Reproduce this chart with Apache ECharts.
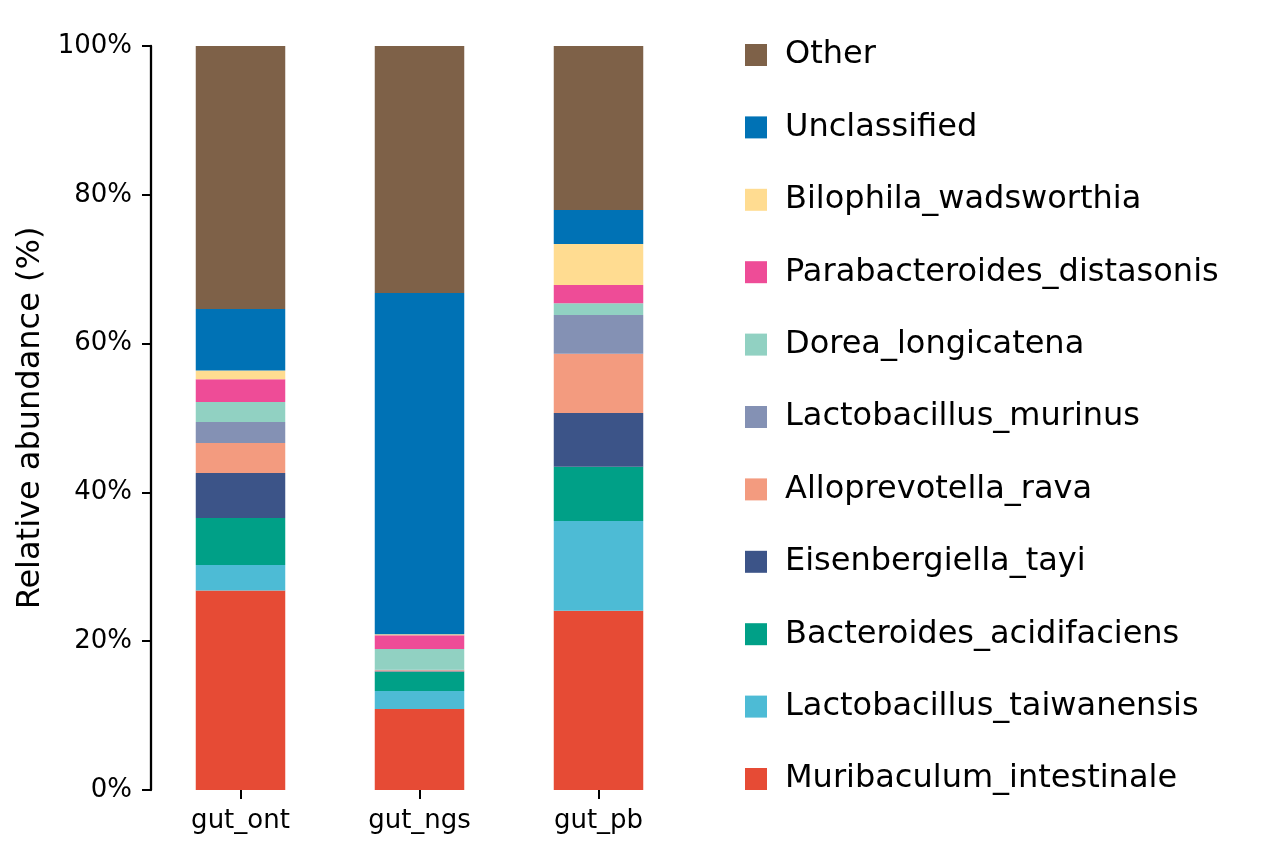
<!DOCTYPE html>
<html>
<head>
<meta charset="utf-8">
<script src="https://cdn.jsdelivr.net/npm/echarts@6/dist/echarts.min.js"></script>
<style>
html,body{margin:0;padding:0;background:#fff;}
#chart{width:1265px;height:852px;}
</style>
</head>
<body>
<div id="chart"></div>
<script>
const categories = ['gut_ont', 'gut_ngs', 'gut_pb'];
const yTicks = [0, 20, 40, 60, 80, 100];
// bottom-up stacking order
const taxa = ['Muribaculum_intestinale','Lactobacillus_taiwanensis','Bacteroides_acidifaciens','Eisenbergiella_tayi','Alloprevotella_rava','Lactobacillus_murinus','Dorea_longicatena','Parabacteroides_distasonis','Bilophila_wadsworthia','Unclassified','Other'];
const colors = ['#E64B35','#4DBBD5','#00A087','#3C5488','#F39B7F','#8491B4','#91D1C2','#EE4C97','#FFDC91','#0072B5','#7E6148'];
const Muribaculum_intestinale = [26.8, 10.9, 24.1];
const Lactobacillus_taiwanensis = [3.45, 2.4, 12.06];
const Bacteroides_acidifaciens = [6.3, 2.6, 7.3];
const Eisenbergiella_tayi = [6.05, 0.05, 7.21];
const Alloprevotella_rava = [4.05, 0.15, 7.97];
const Lactobacillus_murinus = [2.8, 0.05, 5.2];
const Dorea_longicatena = [2.7, 2.8, 1.57];
const Parabacteroides_distasonis = [3.05, 1.85, 2.47];
const Bilophila_wadsworthia = [1.2, 0.15, 5.51];
const Unclassified = [8.25, 45.85, 4.57];
const Other = [35.35, 33.2, 22.04];
const values = [Muribaculum_intestinale, Lactobacillus_taiwanensis, Bacteroides_acidifaciens, Eisenbergiella_tayi, Alloprevotella_rava, Lactobacillus_murinus, Dorea_longicatena, Parabacteroides_distasonis, Bilophila_wadsworthia, Unclassified, Other];

const FONT = 'DejaVu Sans';
const chart = echarts.init(document.getElementById('chart'), null, {renderer: 'canvas'});
const series = taxa.map((name, i) => ({
  name: name,
  type: 'bar',
  stack: 'total',
  barWidth: '50%',
  data: values[i],
  itemStyle: {color: colors[i]},
  emphasis: {disabled: true}
}));
chart.setOption({
  animation: false,
  color: colors,
  grid: {left: 151, top: 46, width: 537, height: 744, containLabel: false},
  xAxis: {
    type: 'category',
    data: categories,
    axisLine: {show: false},
    axisTick: {show: true, alignWithLabel: true, length: 9, lineStyle: {color: '#000', width: 2}},
    axisLabel: {color: '#000', fontFamily: FONT, fontSize: 26, margin: 18}
  },
  yAxis: {
    type: 'value',
    min: yTicks[0],
    max: yTicks[yTicks.length - 1],
    interval: 20,
    name: 'Relative abundance (%)',
    nameLocation: 'middle',
    nameGap: 104,
    nameTextStyle: {color: '#000', fontFamily: FONT, fontSize: 32},
    axisLine: {show: true, lineStyle: {color: '#000', width: 2.3}},
    axisTick: {show: true, length: 9, lineStyle: {color: '#000', width: 2}},
    axisLabel: {color: '#000', fontFamily: FONT, fontSize: 26, margin: 19, formatter: v => v + '%'},
    splitLine: {show: false}
  },
  legend: {
    orient: 'vertical',
    left: 740,
    top: 34,
    itemWidth: 22,
    itemHeight: 22,
    itemGap: 40.4,
    icon: 'rect',
    data: taxa.slice().reverse(),
    textStyle: {color: '#000', fontFamily: FONT, fontSize: 32, lineHeight: 32, padding: [0, 0, 0, 13]},
    selectedMode: false
  },
  series: series
});
</script>
</body>
</html>
